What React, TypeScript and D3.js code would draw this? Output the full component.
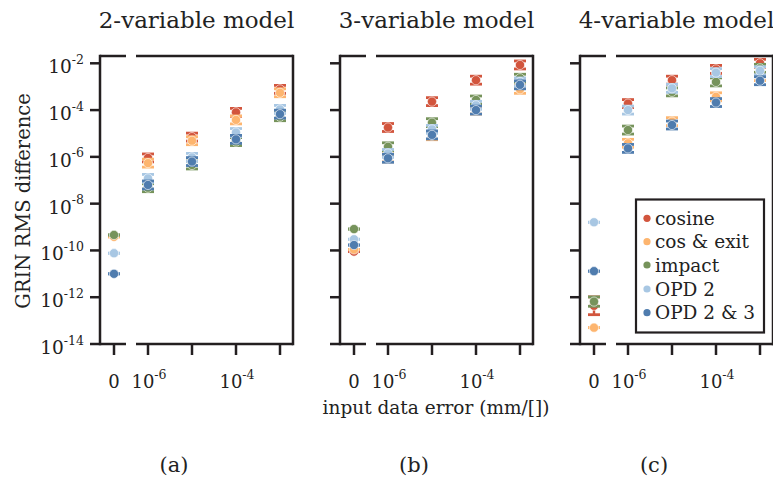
import React from 'react';
import * as d3 from 'd3';

const seriesNames = ['cosine', 'cos & exit', 'impact', 'OPD 2', 'OPD 2 & 3'];
const seriesColors = ['#d2553d', '#fdb56f', '#76935b', '#a8c7e3', '#4f7cae'];
const xValues = [0, 1e-6, 1e-5, 1e-4, 1e-3];
const panelTitles = ['2-variable model', '3-variable model', '4-variable model'];
const panelLabels = ['(a)', '(b)', '(c)'];
const yTickExps = [-2, -4, -6, -8, -10, -12, -14];
const xTickValues = [1e-6, 1e-5, 1e-4, 1e-3];
const xTickLabelExps = [-6, null, -4, null];

// 2-variable model: values at x = 0, 1e-6, 1e-5, 1e-4, 1e-3
const m2Cosine = [4.2e-10, 9e-7, 7e-6, 8e-5, 7.7e-4];
const m2CosExit = [3.8e-10, 5.4e-7, 4.9e-6, 3.8e-5, 5.5e-4];
const m2Impact = [4.6e-10, 4.8e-8, 4.5e-7, 4.5e-6, 5.2e-5];
const m2Opd2 = [7.6e-11, 1.2e-7, 9.5e-7, 1.1e-5, 1.07e-4];
const m2Opd23 = [1e-11, 6.3e-8, 6.3e-7, 5.6e-6, 6.7e-5];

// 3-variable model
const m3Cosine = [8.9e-11, 1.8e-5, 2.3e-4, 1.9e-3, 8.5e-3];
const m3CosExit = [1.1e-10, 9e-7, 8e-6, 1e-4, 7.7e-4];
const m3Impact = [8.2e-10, 2.7e-6, 2.9e-5, 2.7e-4, 2.3e-3];
const m3Opd2 = [3e-10, 1.4e-6, 1.5e-5, 1.6e-4, 1.6e-3];
const m3Opd23 = [1.7e-10, 8.7e-7, 8.7e-6, 1e-4, 1.2e-3];

// 4-variable model
const m4Cosine = [4.3e-13, 1.9e-4, 1.9e-3, 5.5e-3, 1e-2];
const m4CosExit = [5e-14, 3.8e-6, 3.2e-5, 3.7e-4, 2.7e-3];
const m4Impact = [6.5e-13, 1.4e-5, 6e-4, 1.6e-3, 6.1e-3];
const m4Opd2 = [1.6e-9, 1e-4, 8.5e-4, 4e-3, 4.8e-3];
const m4Opd23 = [1.3e-11, 2.3e-6, 2.3e-5, 2.1e-4, 1.8e-3];

// error half-width in decades
const errDecades = 0.17;
const zeroErr2 = [0, 0, 0, 0, 0];
const zeroErr3 = [0, 0, 0, 0, 0];
const zeroErr4 = [0.38, 0, 0.2, 0, 0];

const panels = [
  { data: [m2Cosine, m2CosExit, m2Impact, m2Opd2, m2Opd23], zeroErr: zeroErr2 },
  { data: [m3Cosine, m3CosExit, m3Impact, m3Opd2, m3Opd23], zeroErr: zeroErr3 },
  { data: [m4Cosine, m4CosExit, m4Impact, m4Opd2, m4Opd23], zeroErr: zeroErr4 },
];

const FONT = '"DejaVu Serif", serif';
const AX = '#231f20';
const panelLefts = [100, 340, 580];
const TOP = 56;
const BOTTOM = 344;
const PW = 193;

const yScale = d3.scaleLog().domain([1e-14, 1e-2]).range([344, 63.3]);

function Panel({ idx }: { idx: number }) {
  const L = panelLefts[idx];
  const xScale = d3.scaleLog().domain([1e-6, 1e-3]).range([L + 48, L + 180]);
  const zeroX = L + 14;
  const { data, zeroErr } = panels[idx];
  return (
    <g>
      <line x1={L} x2={L} y1={TOP} y2={BOTTOM} stroke={AX} strokeWidth={2.5} strokeLinecap="square" />
      <line x1={L + PW} x2={L + PW} y1={TOP} y2={BOTTOM} stroke={AX} strokeWidth={2.5} strokeLinecap="square" />
      {[TOP, BOTTOM].map((yy) => (
        <g key={yy}>
          <line x1={L} x2={L + 26} y1={yy} y2={yy} stroke={AX} strokeWidth={2.5} />
          <line x1={L + 36} x2={L + PW} y1={yy} y2={yy} stroke={AX} strokeWidth={2.5} />
        </g>
      ))}
      {yTickExps.map((e) => {
        const y = yScale(Math.pow(10, e));
        return (
          <g key={e}>
            <line x1={L - 10} x2={L} y1={y} y2={y} stroke={AX} strokeWidth={2.5} />
            {idx === 0 && (
              <text x={84} y={y + 10} textAnchor="end" fontFamily={FONT} fontSize={18.5} fill="#222">
                10<tspan fontSize={12.5} dy={-9.5}>{e}</tspan>
              </text>
            )}
          </g>
        );
      })}
      <line x1={zeroX} x2={zeroX} y1={BOTTOM} y2={BOTTOM + 11} stroke={AX} strokeWidth={2.5} />
      <text x={zeroX} y={388} textAnchor="middle" fontFamily={FONT} fontSize={18} fill="#222">0</text>
      {xTickValues.map((v, i) => (
        <g key={i}>
          <line x1={xScale(v)} x2={xScale(v)} y1={BOTTOM} y2={BOTTOM + 11} stroke={AX} strokeWidth={2.5} />
          {xTickLabelExps[i] !== null && (
            <text x={xScale(v) + 1} y={388} textAnchor="middle" fontFamily={FONT} fontSize={18} fill="#222">
              10<tspan fontSize={12.5} dy={-9.5}>{xTickLabelExps[i]}</tspan>
            </text>
          )}
        </g>
      ))}
      <text x={L + PW / 2} y={28} textAnchor="middle" fontFamily={FONT} fontSize={23} fill="#222">
        {panelTitles[idx]}
      </text>
      <text x={L + 74} y={472} textAnchor="middle" fontFamily={FONT} fontSize={21} fill="#222">
        {panelLabels[idx]}
      </text>
      {data.map((vals, s) => (
        <g key={s}>
          {vals.map((v, i) => {
            const x = i === 0 ? zeroX : xScale(xValues[i]);
            const err = i === 0 ? zeroErr[s] : errDecades;
            const lo = v / Math.pow(10, err);
            const hi = v * Math.pow(10, err);
            const yLo = yScale(lo);
            const yHi = yScale(hi);
            const c = seriesColors[s];
            return (
              <g key={i}>
                <line x1={x} x2={x} y1={yLo} y2={yHi} stroke={c} strokeWidth={2.4} />
                <line x1={x - 6} x2={x + 6} y1={yLo} y2={yLo} stroke={c} strokeWidth={2.8} />
                <line x1={x - 6} x2={x + 6} y1={yHi} y2={yHi} stroke={c} strokeWidth={2.8} />
                <circle cx={x} cy={yScale(v)} r={4.6} fill={c} stroke="#fff" strokeWidth={0.6} />
              </g>
            );
          })}
        </g>
      ))}
    </g>
  );
}

export default function App() {
  const legendRows = [218.3, 241.7, 265, 289, 312.7];
  return (
    <svg width={773} height={482} style={{ position: 'absolute', left: 0, top: 0, background: '#fff' }}>
      <rect x={0} y={0} width={773} height={482} fill="#fff" />
      {[0, 1, 2].map((i) => (
        <Panel key={i} idx={i} />
      ))}
      <text
        transform="translate(30,201) rotate(-90)"
        textAnchor="middle"
        fontFamily={FONT}
        fontSize={19.5}
        fill="#222"
      >
        GRIN RMS difference
      </text>
      <text x={436} y={414} textAnchor="middle" fontFamily={FONT} fontSize={18.5} fill="#222">
        input data error (mm/[])
      </text>
      <rect x={636} y={199.5} width={128} height={133} fill="#fff" stroke={AX} strokeWidth={2.2} />
      {seriesNames.map((n, i) => (
        <g key={n}>
          <circle cx={647} cy={legendRows[i]} r={3.6} fill={seriesColors[i]} />
          <text x={655} y={legendRows[i] + 6.5} fontFamily={FONT} fontSize={18.5} fill="#222">
            {n}
          </text>
        </g>
      ))}
    </svg>
  );
}
